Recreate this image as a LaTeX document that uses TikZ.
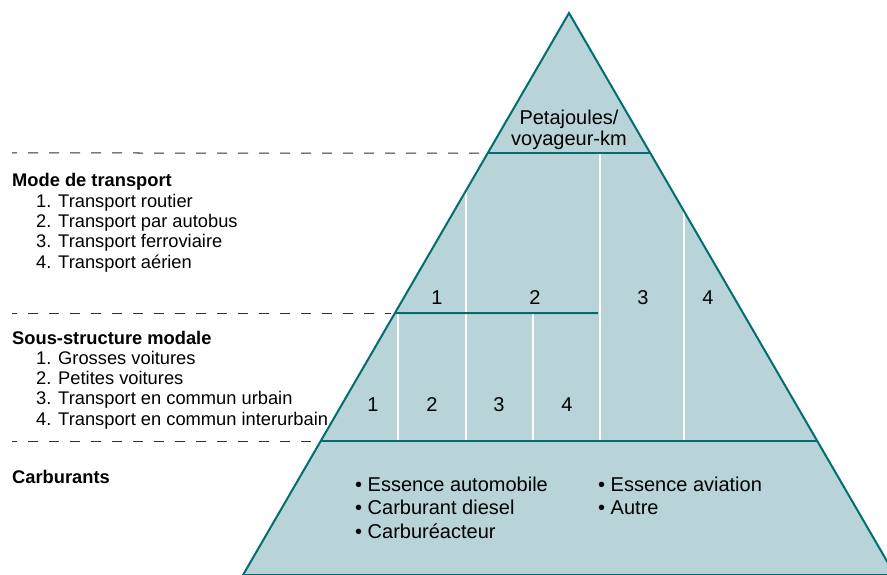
\documentclass[tikz,border=0pt]{standalone}
\usepackage{fontspec}
\setmainfont{Liberation Sans}
\usetikzlibrary{positioning,calc}
\definecolor{pyrline}{HTML}{006E70}
\definecolor{pyrfill}{HTML}{B8D4D8}
\definecolor{guidegray}{HTML}{303030}

\begin{document}
\begin{tikzpicture}[x=1pt,y=-1pt,
 level/.style={draw=pyrline,line width=2pt},
 split/.style={draw=white,line width=1.3pt},
 guide/.style={draw=guidegray,line width=1pt,dash pattern=on 10pt off 11pt,dash phase=5pt},
 head/.style={anchor=base west,inner sep=0pt,font=\fontsize{18.3}{20.3}\selectfont\bfseries},
 items/.style={anchor=base west,inner sep=0pt,align=left,font=\fontsize{18.3}{20.3}\selectfont},
 cell/.style={anchor=base,inner sep=0pt,font=\fontsize{20}{22}\selectfont},
 fuel/.style={anchor=base west,inner sep=0pt,align=left,font=\fontsize{20}{23.5}\selectfont}
]
\useasboundingbox (0,0) rectangle (887,575);
\clip (0,0) rectangle (887,575);

% pyramid
\coordinate (apex) at (569,13);
\coordinate (bl) at (243,575);
\coordinate (br) at (895,575);
\coordinate (l1) at ($(apex)!0.24911!(bl)$);
\coordinate (r1) at ($(apex)!0.24911!(br)$);
\coordinate (l2) at ($(apex)!0.53381!(bl)$);
\coordinate (l3) at ($(apex)!0.76157!(bl)$);
\coordinate (r3) at ($(apex)!0.76157!(br)$);
\fill[pyrfill] (apex)--(br)--(bl)--cycle;

% cells
\draw[split] (600,153)--(600,441);
\draw[split] (466,190)--(466,441);
\draw[split] (684,211)--(684,441);
\draw[split] (398,313)--(398,441);
\draw[split] (533,313)--(533,441);
\draw[level] (l1)--(r1);
\draw[level] (l2)--(598,313);
\draw[level] (l3)--(r3);
\draw[level,line join=miter] (apex)--(br)--(bl)--cycle;

% multi-line nodes sit on the baseline of their last line
\node[cell,align=center,font=\fontsize{20}{21.6}\selectfont] (unit) at (569,145.7) {Petajoules/\\voyageur-km};
\node[cell] (m1) at (437,304) {1};
\node[cell] (m2) at (535,304) {2};
\node[cell] (m3) at (643,304) {3};
\node[cell] (m4) at (708,304) {4};
\node[cell] (s1) at (373,411) {1};
\node[cell] (s2) at (432,411) {2};
\node[cell] (s3) at (499,411) {3};
\node[cell] (s4) at (567,411) {4};
\node[fuel] (fuelsA) at (355,538) {\textbullet\ Essence automobile\\\textbullet\ Carburant diesel\\\textbullet\ Carburéacteur};
\node[fuel] (fuelsB) at (598,514.5) {\textbullet\ Essence aviation\\\textbullet\ Autre};

% levels on the left
\draw[guide] (12,153)--(l1);
\draw[guide] (12,313)--(391,313);
\draw[guide] (12,441)--(311,441);
\node[head] (mode) at (12,187) {Mode de transport};
\node[items] (modelist) at ($(mode.base west)+(24,81.2)$) {1. Transport routier\\2. Transport par autobus\\3. Transport ferroviaire\\4. Transport aérien};
\node[head] (sub) at (12,344) {Sous-structure modale};
\node[items] (sublist) at ($(sub.base west)+(24,81.2)$) {1. Grosses voitures\\2. Petites voitures\\3. Transport en commun urbain\\4. Transport en commun interurbain};
\node[head] (fuels) at (12,483) {Carburants};
\end{tikzpicture}
\end{document}
